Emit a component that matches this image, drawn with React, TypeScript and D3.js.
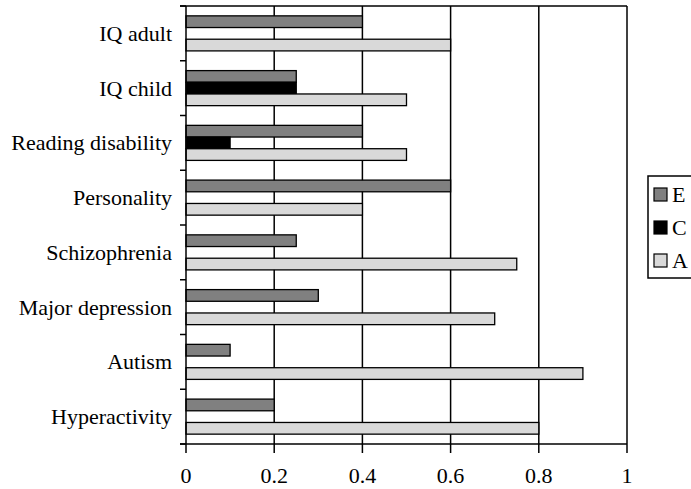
import React from "react";
import * as d3 from "d3";

const categories = ["IQ adult", "IQ child", "Reading disability", "Personality", "Schizophrenia", "Major depression", "Autism", "Hyperactivity"];
const seriesNames = ["E", "C", "A"];
const valuesE = [0.4, 0.25, 0.4, 0.6, 0.25, 0.3, 0.1, 0.2];
const valuesC = [0, 0.25, 0.1, 0, 0, 0, 0, 0];
const valuesA = [0.6, 0.5, 0.5, 0.4, 0.75, 0.7, 0.9, 0.8];
const seriesColors = ["#808080", "#000000", "#d9d9d9"];
const xTicks = [0, 0.2, 0.4, 0.6, 0.8, 1];

export default function App() {
  const W = 691, H = 489;
  const left = 186, right = 627, top = 6, bottom = 444;
  const x = d3.scaleLinear().domain([0, 1]).range([left, right]);
  const y = d3.scaleBand<string>().domain(categories).range([top, bottom]).paddingInner(0.36).paddingOuter(0.18);
  const inner = d3.scaleBand<string>().domain(seriesNames).range([0, y.bandwidth()]);
  const series = [valuesE, valuesC, valuesA];
  const band = (bottom - top) / categories.length;
  const tf: React.CSSProperties = { fontFamily: "'Liberation Serif', 'DejaVu Serif', 'Times New Roman', serif" };
  return (
    <svg width={W} height={H} style={{ position: "absolute", left: 0, top: 0 }}>
      <rect width={W} height={H} fill="#fff" />
      {xTicks.filter(t => t > 0).map(t => (
        <line key={"g" + t} x1={x(t)} x2={x(t)} y1={top} y2={bottom} stroke="#000" strokeWidth={1.5} />
      ))}
      <line x1={left - 6} x2={right} y1={top} y2={top} stroke="#000" strokeWidth={1.5} />
      {categories.map((c, i) => (
        <g key={c}>
          {series.map((vals, s) => vals[i] > 0 ? (
            <rect key={s} x={x(0)} y={(y(c) as number) + (inner(seriesNames[s]) as number)} width={x(vals[i]) - x(0)} height={inner.bandwidth()} fill={seriesColors[s]} stroke="#000" strokeWidth={1.3} />
          ) : null)}
        </g>
      ))}
      <line x1={left} x2={left} y1={top} y2={bottom} stroke="#000" strokeWidth={1.5} />
      <line x1={left - 6} x2={right} y1={bottom} y2={bottom} stroke="#000" strokeWidth={1.5} />
      {d3.range(categories.length + 1).map(k => (
        <line key={"lt" + k} x1={left - 6} x2={left} y1={top + k * band} y2={top + k * band} stroke="#000" strokeWidth={1.5} />
      ))}
      {xTicks.map(t => (
        <g key={"xt" + t}>
          <line x1={x(t)} x2={x(t)} y1={bottom} y2={bottom + 9} stroke="#000" strokeWidth={1.5} />
          <text x={x(t)} y={483} textAnchor="middle" fontSize={22} fill="#000" style={tf}>{String(t)}</text>
        </g>
      ))}
      {categories.map(c => (
        <text key={"l" + c} x={172} y={(y(c) as number) + y.bandwidth() / 2 + 7.5} textAnchor="end" fontSize={22} fill="#000" style={tf}>{c}</text>
      ))}
      <rect x={648} y={176} width={60} height={102} fill="#fff" stroke="#000" strokeWidth={1.5} />
      {seriesNames.map((n, i) => (
        <g key={"lg" + n}>
          <rect x={654} y={188 + i * 33} width={13} height={13} fill={seriesColors[i]} stroke="#000" strokeWidth={1.2} />
          <text x={672} y={202 + i * 33} fontSize={22} fill="#000" style={tf}>{n}</text>
        </g>
      ))}
    </svg>
  );
}
